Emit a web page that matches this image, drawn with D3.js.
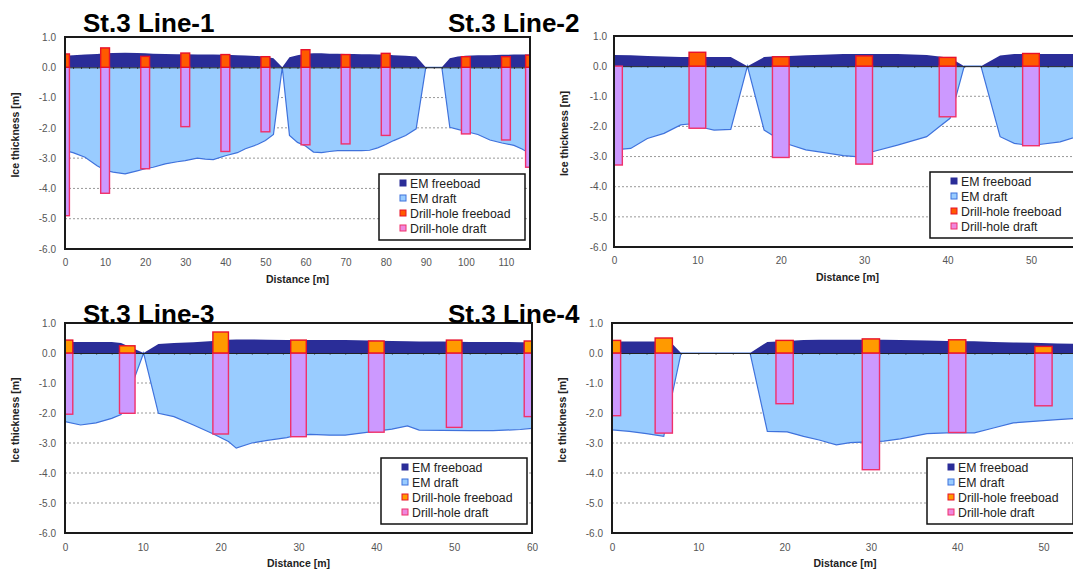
<!DOCTYPE html>
<html>
<head>
<meta charset="utf-8">
<script src="https://cdn.jsdelivr.net/npm/d3@7"></script>
<style>
  body { margin: 0; background: #fff; }
  svg { display: block; font-family: "Liberation Sans", Arial, sans-serif; }
</style>
</head>
<body>
<div id="chart"></div>
<script>
// ---- Line-1 ----
var line1Dist  = [0, 2, 5, 8, 10, 12, 15, 18, 20, 22, 25, 28, 30, 33, 35, 37, 40, 43, 45, 48, 50, 52, 54.2, 56, 58, 60, 62, 64, 66, 68, 70, 72, 74, 76, 78, 80, 82, 85, 87.6, 90, 94, 96, 98, 100, 103, 106, 109, 112, 114, 116];
var line1Free  = [0.38, 0.40, 0.42, 0.44, 0.46, 0.47, 0.48, 0.47, 0.46, 0.45, 0.44, 0.43, 0.43, 0.42, 0.42, 0.42, 0.41, 0.40, 0.39, 0.37, 0.35, 0.30, 0, 0.33, 0.40, 0.45, 0.46, 0.46, 0.45, 0.45, 0.44, 0.44, 0.43, 0.43, 0.42, 0.42, 0.40, 0.38, 0.36, 0, 0, 0.30, 0.36, 0.38, 0.40, 0.40, 0.41, 0.42, 0.42, 0.42];
var line1Draft = [-2.75, -2.82, -2.97, -3.25, -3.40, -3.46, -3.52, -3.42, -3.35, -3.30, -3.19, -3.12, -3.08, -3.00, -3.03, -3.05, -2.92, -2.82, -2.69, -2.55, -2.42, -2.22, 0, -2.25, -2.48, -2.60, -2.80, -2.82, -2.78, -2.75, -2.75, -2.75, -2.75, -2.74, -2.66, -2.55, -2.42, -2.25, -2.03, 0, 0, -1.98, -2.05, -2.12, -2.22, -2.40, -2.50, -2.58, -2.70, -2.85];
var line1HoleDist  = [0, 10, 20, 30, 40, 50, 60, 70, 80, 100, 110, 116];
var line1HoleFree  = [0.44, 0.64, 0.36, 0.47, 0.42, 0.35, 0.58, 0.42, 0.46, 0.35, 0.35, 0.40];
var line1HoleDraft = [-4.90, -4.16, -3.35, -1.96, -2.78, -2.13, -2.56, -2.53, -2.25, -2.20, -2.40, -3.30];

// ---- Line-2 ----
var line2Dist  = [0, 2, 4, 6, 8, 9, 11, 12, 14, 16, 18, 19, 21, 23, 25, 27.5, 29, 31, 34, 37.5, 39, 40.3, 42, 44, 46.3, 48, 49, 51, 53.5, 56];
var line2Free  = [0.37, 0.36, 0.34, 0.32, 0.30, 0.30, 0.30, 0.30, 0.30, 0, 0.30, 0.32, 0.34, 0.36, 0.38, 0.40, 0.40, 0.40, 0.40, 0.37, 0.32, 0.28, 0, 0, 0.35, 0.40, 0.40, 0.40, 0.40, 0.40];
var line2Draft = [-2.78, -2.73, -2.40, -2.23, -1.95, -1.92, -2.06, -2.12, -2.10, 0, -2.12, -2.29, -2.60, -2.78, -2.86, -2.97, -3.00, -2.84, -2.62, -2.34, -2.01, -1.73, 0, 0, -2.34, -2.56, -2.60, -2.60, -2.51, -2.30];
var line2HoleDist  = [0, 10, 20, 30, 40, 50];
var line2HoleFree  = [0, 0.46, 0.31, 0.34, 0.29, 0.42];
var line2HoleDraft = [-3.28, -2.06, -3.03, -3.25, -1.68, -2.64];

// ---- Line-3 ----
var line3Dist  = [0, 2, 4, 6, 7.2, 10.1, 12, 14, 16.5, 19, 21, 22, 24, 26, 28.5, 29.4, 31.5, 34, 36, 39, 42, 44, 45.5, 48.5, 52, 55, 58.5, 60];
var line3Free  = [0.37, 0.37, 0.37, 0.37, 0.33, 0, 0.30, 0.33, 0.36, 0.40, 0.44, 0.45, 0.45, 0.44, 0.43, 0.43, 0.43, 0.43, 0.43, 0.42, 0.40, 0.39, 0.38, 0.38, 0.37, 0.37, 0.36, 0.36];
var line3Draft = [-2.29, -2.40, -2.33, -2.18, -2.05, 0, -2.01, -2.12, -2.40, -2.69, -2.95, -3.17, -3.00, -2.91, -2.82, -2.76, -2.71, -2.74, -2.74, -2.64, -2.54, -2.43, -2.57, -2.58, -2.59, -2.59, -2.55, -2.51];
var line3HoleDist  = [0, 8, 20, 30, 40, 50, 60];
var line3HoleFree  = [0.43, 0.24, 0.70, 0.43, 0.40, 0.43, 0.40];
var line3HoleDraft = [-2.04, -2.01, -2.70, -2.79, -2.64, -2.48, -2.12];

// ---- Line-4 ----
var line4Dist  = [0, 2, 4, 6, 7, 8, 16, 18, 20.3, 22.2, 24, 26, 27.6, 29, 31.5, 33.4, 36.5, 38.8, 42, 44.2, 46.5, 48.8, 51.6, 54];
var line4Free  = [0.38, 0.38, 0.38, 0.38, 0.30, 0, 0, 0.37, 0.40, 0.43, 0.44, 0.44, 0.44, 0.44, 0.44, 0.43, 0.42, 0.40, 0.39, 0.37, 0.35, 0.34, 0.32, 0.31];
var line4Draft = [-2.56, -2.61, -2.69, -2.78, -1.35, 0, 0, -2.61, -2.63, -2.78, -2.90, -3.06, -2.99, -2.97, -2.94, -2.86, -2.69, -2.66, -2.66, -2.50, -2.33, -2.28, -2.22, -2.18];
var line4HoleDist  = [0, 6, 20, 30, 40, 50];
var line4HoleFree  = [0.42, 0.50, 0.42, 0.47, 0.44, 0.22];
var line4HoleDraft = [-2.09, -2.67, -1.69, -3.89, -2.65, -1.76];

var yTicks = [1, 0, -1, -2, -3, -4, -5, -6];
var gridValues = [-1, -2, -3, -4, -5];
var legendLabels = ["EM freeboad", "EM draft", "Drill-hole freeboad", "Drill-hole draft"];

var w = 1073, h = 574;
var svg = d3.select("#chart").append("svg").attr("width", w).attr("height", h);

var panels = [
  { name: "St.3 Line-1", dist: line1Dist, free: line1Free, draft: line1Draft,
    hDist: line1HoleDist, hFree: line1HoleFree, hDraft: line1HoleDraft,
    left: 65, right: 530, top: 37, bottom: 249, xMax: 116, xTicks: d3.range(0, 111, 10),
    tx: 83, ty: 32, holeW: 2.2, holeColor: "#ff5a00", ytPad: 9 },
  { name: "St.3 Line-2", dist: line2Dist, free: line2Free, draft: line2Draft,
    hDist: line2HoleDist, hFree: line2HoleFree, hDraft: line2HoleDraft,
    left: 614, right: 1081, top: 36, bottom: 247, xMax: 56, xTicks: d3.range(0, 51, 10),
    tx: 448, ty: 32, holeW: 2.0, holeColor: "#ff5a00", ytPad: 7 },
  { name: "St.3 Line-3", dist: line3Dist, free: line3Free, draft: line3Draft,
    hDist: line3HoleDist, hFree: line3HoleFree, hDraft: line3HoleDraft,
    left: 65, right: 532, top: 323, bottom: 533, xMax: 60, xTicks: d3.range(0, 61, 10),
    tx: 83, ty: 323, holeW: 2.0, holeColor: "#ff9a00", ytPad: 9 },
  { name: "St.3 Line-4", dist: line4Dist, free: line4Free, draft: line4Draft,
    hDist: line4HoleDist, hFree: line4HoleFree, hDraft: line4HoleDraft,
    left: 612, right: 1078, top: 323, bottom: 533, xMax: 54, xTicks: d3.range(0, 51, 10),
    tx: 448, ty: 323, holeW: 2.0, holeColor: "#ff9a00", ytPad: 9 }
];

panels.forEach(function (p, i) {
  var x = d3.scaleLinear().domain([0, p.xMax]).range([p.left, p.right]);
  var y = d3.scaleLinear().domain([-6, 1]).range([p.bottom, p.top]);
  var g = svg.append("g");

  // clip to plot area
  var clipId = "clip" + i;
  svg.append("clipPath").attr("id", clipId)
    .append("rect")
    .attr("x", p.left).attr("y", p.top)
    .attr("width", p.right - p.left).attr("height", p.bottom - p.top);

  // dotted gridlines
  g.selectAll(".grid")
    .data(gridValues)
    .enter()
    .append("line")
    .attr("x1", p.left).attr("x2", p.right)
    .attr("y1", d => y(d)).attr("y2", d => y(d))
    .attr("stroke", "#999")
    .attr("stroke-width", 1)
    .attr("stroke-dasharray", "2,2");

  var pts = p.dist.map((d, k) => ({ x: d, f: p.free[k], dr: p.draft[k] }));
  var plot = g.append("g").attr("clip-path", "url(#" + clipId + ")");

  // EM draft area
  plot.append("path")
    .datum(pts)
    .attr("fill", "#99ccff")
    .attr("d", d3.area().x(d => x(d.x)).y0(y(0)).y1(d => y(d.dr)));
  plot.append("path")
    .datum(pts)
    .attr("fill", "none")
    .attr("stroke", "#3f72dc")
    .attr("stroke-width", 1.2)
    .attr("d", d3.line().x(d => x(d.x)).y(d => y(d.dr)));

  // EM freeboard area
  plot.append("path")
    .datum(pts)
    .attr("fill", "#2a2d98")
    .attr("d", d3.area().x(d => x(d.x)).y0(y(0)).y1(d => y(d.f)));

  // zero axis with small ticks
  plot.append("g")
    .attr("transform", "translate(0," + y(0) + ")")
    .call(d3.axisBottom(x).ticks(p.xMax / 2).tickSize(1.5).tickFormat(""))
    .call(a => a.selectAll("path,line").attr("stroke", "#222"));

  // drill holes
  var holes = p.hDist.map((d, k) => ({ x: d, f: p.hFree[k], dr: p.hDraft[k] }));
  var bw = x(p.holeW) - x(0);
  plot.selectAll(".hdraft")
    .data(holes)
    .enter()
    .append("rect")
    .attr("x", d => x(d.x) - bw / 2)
    .attr("y", y(0))
    .attr("width", bw)
    .attr("height", d => y(d.dr) - y(0))
    .attr("fill", "#cc99ff")
    .attr("stroke", "#f0306a")
    .attr("stroke-width", 1.4);
  plot.selectAll(".hfree")
    .data(holes.filter(d => d.f > 0))
    .enter()
    .append("rect")
    .attr("x", d => x(d.x) - bw / 2)
    .attr("y", d => y(d.f))
    .attr("width", bw)
    .attr("height", d => y(0) - y(d.f))
    .attr("fill", p.holeColor)
    .attr("stroke", "#e8102a")
    .attr("stroke-width", 1.4);

  // plot frame
  g.append("rect")
    .attr("x", p.left).attr("y", p.top)
    .attr("width", p.right - p.left).attr("height", p.bottom - p.top)
    .attr("fill", "none")
    .attr("stroke", "#1a1a1a")
    .attr("stroke-width", 2);

  // y axis labels
  g.append("g")
    .attr("transform", "translate(" + p.left + ",0)")
    .call(d3.axisLeft(y).tickValues(yTicks).tickSize(0).tickPadding(p.ytPad).tickFormat(d => d.toFixed(1)))
    .call(a => a.select(".domain").remove())
    .selectAll("text")
    .attr("fill", "#555")
    .attr("font-size", "10px")
    .attr("font-family", "Liberation Sans, Arial, sans-serif");

  // x axis labels
  g.append("g")
    .attr("transform", "translate(0," + p.bottom + ")")
    .call(d3.axisBottom(x).tickValues(p.xTicks).tickSize(0).tickPadding(i < 2 ? 10 : 11))
    .call(a => a.select(".domain").remove())
    .selectAll("text")
    .attr("fill", "#555")
    .attr("font-size", "10px")
    .attr("font-family", "Liberation Sans, Arial, sans-serif");

  // axis titles
  g.append("text")
    .attr("x", (p.left + p.right) / 2)
    .attr("y", p.bottom + 34)
    .attr("text-anchor", "middle")
    .attr("font-size", "10.5px")
    .attr("font-weight", "bold")
    .attr("fill", "#222")
    .text("Distance [m]");
  g.append("text")
    .attr("transform", "translate(" + (p.left - 46) + "," + ((p.top + p.bottom) / 2 - 8) + ") rotate(-90)")
    .attr("text-anchor", "middle")
    .attr("font-size", "10.5px")
    .attr("font-weight", "bold")
    .attr("fill", "#222")
    .text("Ice thickness [m]");

  // legend
  var lw = 146, lh = 66;
  var lx = p.right - 5 - lw, ly = p.bottom - 9 - lh;
  var lg = g.append("g").attr("transform", "translate(" + lx + "," + ly + ")");
  lg.append("rect")
    .attr("width", lw).attr("height", lh)
    .attr("fill", "#fff")
    .attr("stroke", "#111")
    .attr("stroke-width", 1.5);
  var swFill = ["#2a2d98", "#99ccff", p.holeColor, "#ee88dd"];
  var swStroke = ["#2a2d98", "#3f72dc", "#e8102a", "#f0306a"];
  var items = lg.selectAll(".item")
    .data(legendLabels)
    .enter()
    .append("g")
    .attr("transform", (d, k) => "translate(0," + (14 + k * 15) + ")");
  items.append("rect")
    .attr("x", 21).attr("y", -8)
    .attr("width", 6).attr("height", 6)
    .attr("fill", (d, k) => swFill[k])
    .attr("stroke", (d, k) => swStroke[k])
    .attr("stroke-width", 1);
  items.append("text")
    .attr("x", 31)
    .attr("font-size", "12.3px")
    .attr("fill", "#222")
    .text(d => d);

  // panel title
  svg.append("text")
    .attr("x", p.tx).attr("y", p.ty)
    .attr("font-size", "26px")
    .attr("font-weight", "bold")
    .attr("fill", "#000")
    .text(p.name);
});
</script>
</body>
</html>
